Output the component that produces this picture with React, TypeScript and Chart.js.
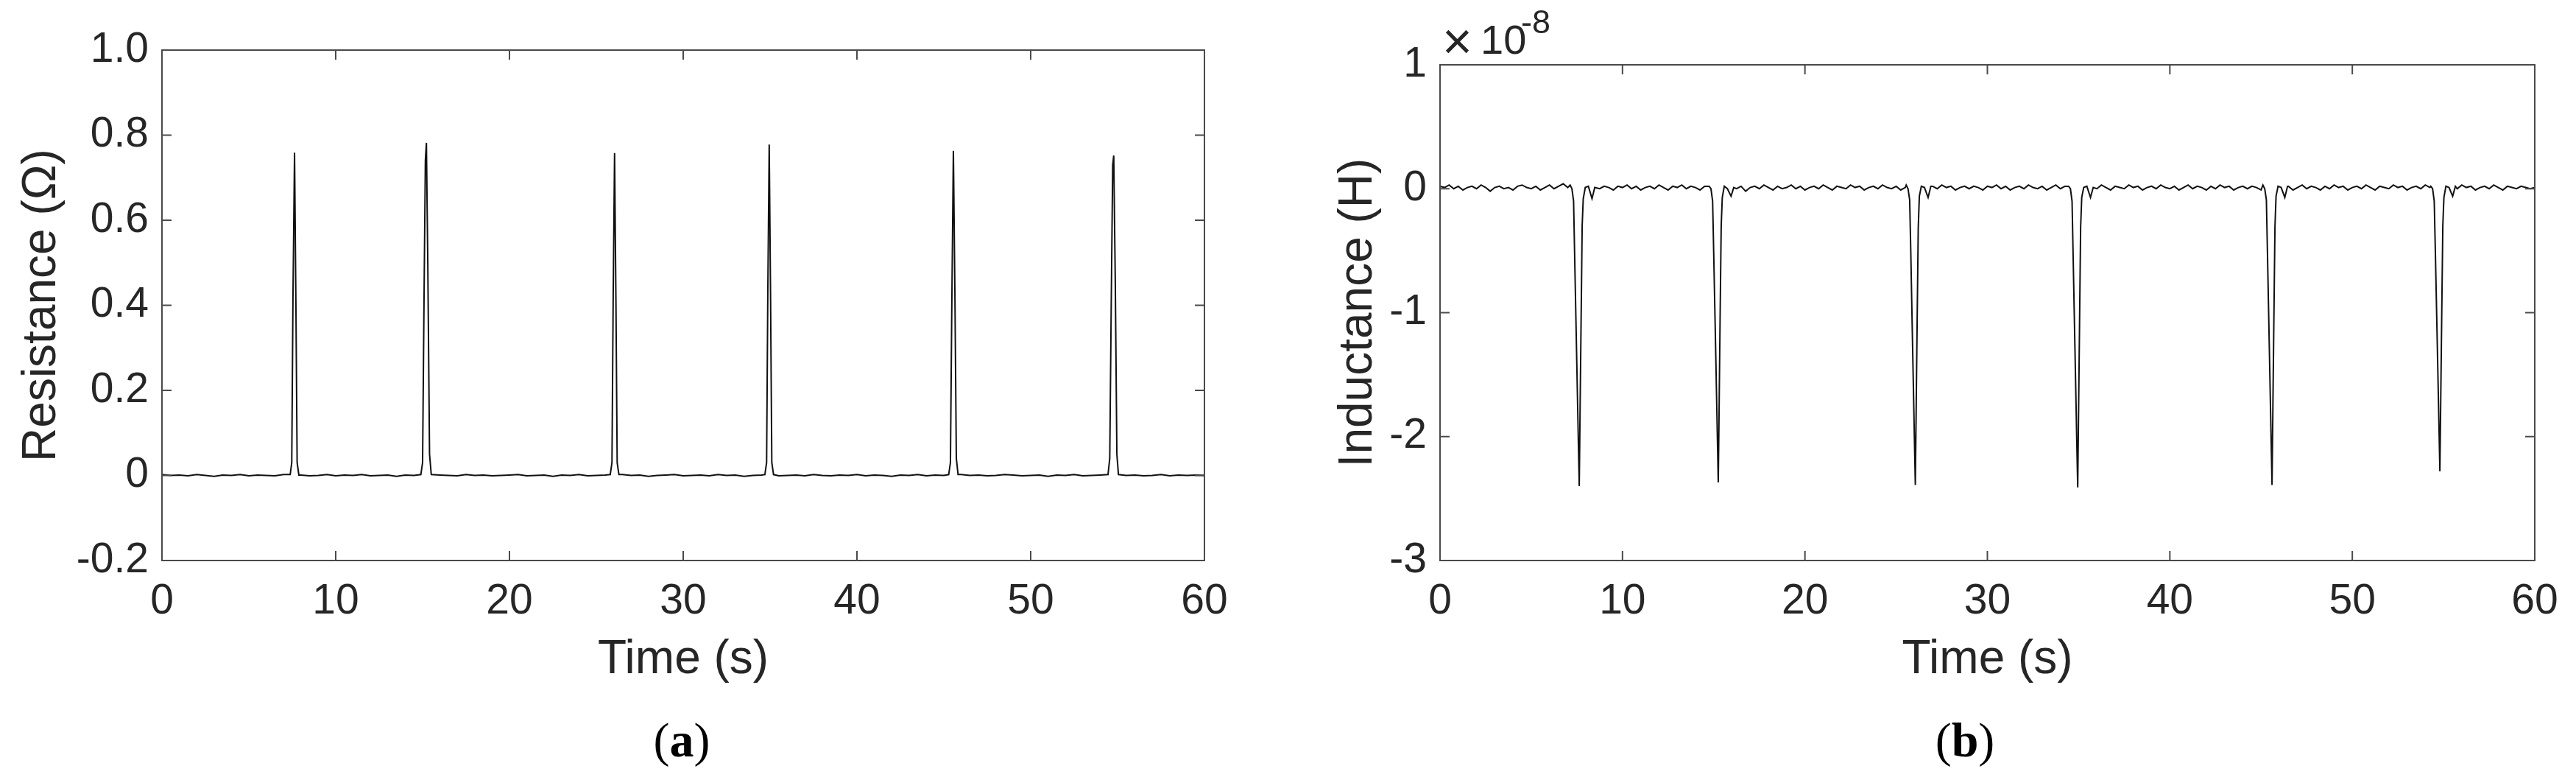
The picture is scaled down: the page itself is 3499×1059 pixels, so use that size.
import React, { useEffect, useRef } from "react";
import { Chart, registerables } from "chart.js";

Chart.register(...registerables);

// ---------------- data ----------------
const timeTicks = [0, 10, 20, 30, 40, 50, 60];
const resistanceTicks = [-0.2, 0, 0.2, 0.4, 0.6, 0.8, 1.0];
const inductanceTicks = [-3, -2, -1, 0, 1]; // ×10^-8 H

// (a) Resistance (Ω): baseline sampled every 0.5 s from 0 s to 60 s
const resistanceSampleStep = 0.5;
const resistanceBaseline = [
  0.002, 0.0, 0.001, -0.001, 0.002, 0.0, -0.002, 0.001, 0.0, 0.002, -0.001, 0.001, 0.0, -0.001, 0.002, 0.0, 0.001, -0.001, 0.0, 0.002,
  -0.001, 0.001, 0.0, 0.002, -0.001, 0.0, 0.001, -0.002, 0.001, 0.0, 0.002, -0.001, 0.001, 0.0, -0.001, 0.002, 0.0, 0.001, -0.001, 0.0,
  0.001, 0.002, -0.001, 0.0, 0.001, -0.002, 0.001, 0.0, 0.002, -0.001, 0.0, 0.001, -0.001, 0.002, 0.0, 0.001, -0.002, 0.0, 0.001, 0.002,
  -0.001, 0.0, 0.001, -0.001, 0.002, 0.0, 0.001, -0.002, 0.0, 0.001, 0.002, -0.001, 0.0, 0.001, -0.001, 0.002, 0.0, -0.001, 0.001, 0.0,
  0.002, -0.001, 0.001, 0.0, -0.002, 0.001, 0.0, 0.002, -0.001, 0.001, 0.0, -0.001, 0.002, 0.0, 0.001, -0.001, 0.0, 0.002, 0.001, -0.001,
  0.0, 0.001, -0.002, 0.001, 0.0, 0.002, -0.001, 0.0, 0.001, -0.001, 0.002, 0.0, 0.001, -0.001, 0.0, 0.002, -0.001, 0.001, 0.0, 0.001,
  0.0,
];
const resistancePeakTimes = [
  [7.38, 7.47, 7.54, 7.63, 7.71, 7.78, 7.88],
  [14.9, 15.0, 15.08, 15.16, 15.22, 15.3, 15.4, 15.5],
  [25.8, 25.9, 25.97, 26.05, 26.13, 26.2, 26.3],
  [34.7, 34.8, 34.87, 34.95, 35.03, 35.1, 35.2],
  [45.28, 45.38, 45.46, 45.55, 45.64, 45.72, 45.82],
  [54.45, 54.55, 54.64, 54.72, 54.78, 54.87, 54.96, 55.05],
];
const resistancePeakValues = [
  [0.002, 0.03, 0.42, 0.759, 0.4, 0.03, 0.001],
  [0.002, 0.03, 0.4, 0.74, 0.782, 0.5, 0.05, 0.002],
  [0.002, 0.03, 0.42, 0.758, 0.4, 0.03, 0.002],
  [0.002, 0.03, 0.43, 0.778, 0.41, 0.03, 0.002],
  [0.002, 0.03, 0.4, 0.763, 0.42, 0.04, 0.002],
  [0.002, 0.04, 0.42, 0.73, 0.752, 0.45, 0.05, 0.002],
];

// (b) Inductance (×10^-8 H): baseline sampled every 0.25 s from 0 s to 60 s
const inductanceSampleStep = 0.25;
const inductanceBaseline = [
  0.02, 0.01, 0.03, 0.0, 0.02, -0.01, 0.01, 0.02, 0.0, 0.03, 0.01, -0.02, 0.01, 0.02, 0.0, 0.01, -0.01, 0.02, 0.03, 0.01,
  0.0, 0.02, -0.01, 0.01, 0.03, 0.0, 0.02, 0.04, 0.01, 0.03, 0.0, 0.02, -0.01, 0.03, 0.01, 0.0, 0.02, 0.01, -0.01, 0.02,
  0.01, 0.03, 0.0, 0.02, -0.01, 0.01, 0.02, 0.0, 0.03, 0.01, -0.01, 0.02, 0.01, 0.03, 0.0, 0.02, 0.01, -0.01, 0.02, 0.01,
  0.0, 0.02, -0.01, 0.01, 0.03, 0.0, 0.02, -0.02, 0.01, 0.02, 0.0, 0.03, 0.01, -0.01, 0.02, 0.0, 0.01, 0.03, 0.0, 0.02,
  -0.01, 0.01, 0.02, 0.0, 0.03, 0.01, -0.01, 0.02, 0.01, 0.0, 0.03, 0.01, 0.02, -0.01, 0.01, 0.02, 0.0, 0.03, 0.01, 0.0,
  0.02, -0.01, 0.01, 0.03, 0.0, 0.02, 0.01, -0.01, 0.02, 0.0, 0.03, 0.01, 0.02, -0.01, 0.01, 0.02, 0.0, 0.02, 0.01, -0.01,
  0.02, 0.01, 0.03, 0.0, 0.02, -0.01, 0.01, 0.02, 0.0, 0.03, 0.01, 0.0, 0.02, -0.01, 0.01, 0.03, 0.0, 0.02, 0.01, 0.0,
  0.02, 0.01, -0.01, 0.02, 0.0, 0.03, 0.01, -0.01, 0.02, 0.01, 0.0, 0.03, 0.01, 0.02, -0.01, 0.01, 0.02, 0.0, 0.03, 0.01,
  0.0, 0.02, -0.01, 0.01, 0.03, 0.0, 0.02, 0.01, -0.01, 0.02, 0.0, 0.03, 0.01, 0.02, -0.01, 0.01, 0.02, 0.0, 0.02, 0.01,
  -0.01, 0.02, 0.0, 0.03, 0.01, 0.0, 0.02, -0.01, 0.01, 0.03, 0.0, 0.02, 0.01, -0.01, 0.02, 0.0, 0.03, 0.01, 0.02, -0.01,
  0.01, 0.02, 0.0, 0.03, 0.01, -0.01, 0.02, 0.01, 0.0, 0.03, 0.01, 0.02, -0.01, 0.01, 0.02, 0.0, 0.03, 0.01, 0.0, 0.02,
  0.01, -0.01, 0.02, 0.0, 0.03, 0.01, 0.02, -0.01, 0.01, 0.02, 0.0, 0.03, 0.01, -0.01, 0.02, 0.01, 0.0, 0.02, 0.01, 0.0,
  0.01,
];
const inductanceDipTimes = [
  [7.13, 7.23, 7.32, 7.38, 7.48, 7.58, 7.63, 7.68, 7.73, 7.79, 7.85, 7.96, 8.13, 8.33, 8.48],
  [14.75, 14.85, 14.94, 15.0, 15.1, 15.2, 15.25, 15.3, 15.35, 15.41, 15.47, 15.58, 15.75, 15.95, 16.1],
  [25.55, 25.65, 25.74, 25.8, 25.9, 26.0, 26.05, 26.1, 26.15, 26.21, 26.27, 26.38, 26.55, 26.75, 26.9],
  [34.45, 34.55, 34.64, 34.7, 34.8, 34.9, 34.95, 35.0, 35.05, 35.11, 35.17, 35.28, 35.45, 35.65, 35.8],
  [45.1, 45.2, 45.29, 45.35, 45.45, 45.55, 45.6, 45.65, 45.7, 45.76, 45.82, 45.93, 46.1, 46.3, 46.45],
  [54.3, 54.4, 54.49, 54.55, 54.65, 54.75, 54.8, 54.85, 54.9, 54.96, 55.02, 55.13, 55.3, 55.5, 55.65],
];
const inductanceDipValues = [
  [0.03, 0.0, -0.1, -0.55, -1.29, -2.03, -2.4, -1.74, -1.09, -0.3, -0.08, 0.01, 0.02, -0.08, 0.01],
  [0.02, 0.0, -0.1, -0.52, -1.25, -2.0, -2.37, -1.72, -1.05, -0.3, -0.07, 0.02, 0.0, -0.06, 0.01],
  [0.03, 0.0, -0.09, -0.5, -1.27, -2.02, -2.39, -1.73, -1.07, -0.32, -0.06, 0.02, 0.01, -0.07, 0.02],
  [0.02, 0.0, -0.1, -0.55, -1.3, -2.05, -2.41, -1.76, -1.1, -0.31, -0.07, 0.01, 0.02, -0.07, 0.01],
  [0.03, 0.0, -0.09, -0.52, -1.27, -2.02, -2.39, -1.73, -1.07, -0.31, -0.06, 0.02, 0.01, -0.07, 0.02],
  [0.02, 0.0, -0.1, -0.5, -1.2, -1.92, -2.28, -1.66, -1.03, -0.3, -0.07, 0.02, 0.01, -0.06, 0.02],
];

// ---------------- styling ----------------
const SANS = '"Liberation Sans", Arial, Helvetica, sans-serif';
const SERIF = '"Liberation Serif", "Times New Roman", serif';
const TEXT_COLOR = "#262626";
const AXIS_COLOR = "#4a4a4a";
const LINE_COLOR = "#111111";
const TICK_FONT = 57;
const TITLE_FONT = 64;
const TICK_LEN = 13;

type Pt = { x: number; y: number };

function buildSeries(step: number, base: number[], eventTimes: number[][], eventValues: number[][]): Pt[] {
  const pts: Pt[] = [];
  base.forEach((v, i) => {
    const t = i * step;
    const inside = eventTimes.some((ts) => t >= ts[0] - 1e-6 && t <= ts[ts.length - 1] + 1e-6);
    if (!inside) pts.push({ x: t, y: v });
  });
  eventTimes.forEach((ts, k) => ts.forEach((t, j) => pts.push({ x: t, y: eventValues[k][j] })));
  pts.sort((a, b) => a.x - b.x);
  return pts;
}

const framePlugin = {
  id: "matlabFrame",
  afterDatasetsDraw(chart: any) {
    const { ctx, chartArea: a, scales } = chart;
    const xs = scales.x;
    const ys = scales.y;
    ctx.save();
    ctx.strokeStyle = AXIS_COLOR;
    ctx.lineWidth = 2;
    ctx.beginPath();
    ctx.rect(a.left, a.top, a.right - a.left, a.bottom - a.top);
    xs.ticks.forEach((t: any) => {
      const px = xs.getPixelForValue(t.value);
      ctx.moveTo(px, a.bottom);
      ctx.lineTo(px, a.bottom - TICK_LEN);
      ctx.moveTo(px, a.top);
      ctx.lineTo(px, a.top + TICK_LEN);
    });
    ys.ticks.forEach((t: any) => {
      const py = ys.getPixelForValue(t.value);
      ctx.moveTo(a.left, py);
      ctx.lineTo(a.left + TICK_LEN, py);
      ctx.moveTo(a.right, py);
      ctx.lineTo(a.right - TICK_LEN, py);
    });
    ctx.stroke();
    ctx.restore();
  },
};

type PanelProps = {
  left: number;
  width: number;
  height: number;
  data: Pt[];
  yMin: number;
  yMax: number;
  yTicks: number[];
  yFormat: (v: number) => string;
  yTitle: string;
  yAxisWidth: number;
  yTitlePad: number;
  padTop: number;
  padRight: number;
  xAxisHeight: number;
};

function Panel(p: PanelProps) {
  const ref = useRef<HTMLCanvasElement | null>(null);
  useEffect(() => {
    if (!ref.current) return;
    const chart = new Chart(ref.current, {
      type: "line",
      data: {
        datasets: [
          {
            data: p.data,
            borderColor: LINE_COLOR,
            borderWidth: 2,
            pointRadius: 0,
            fill: false,
            tension: 0,
          },
        ],
      },
      options: {
        responsive: false,
        animation: false,
        events: [],
        layout: { padding: { top: p.padTop, right: p.padRight, left: 0, bottom: 0 } },
        plugins: { legend: { display: false }, tooltip: { enabled: false }, title: { display: false } },
        scales: {
          x: {
            type: "linear",
            min: timeTicks[0],
            max: timeTicks[timeTicks.length - 1],
            afterBuildTicks: (s: any) => {
              s.ticks = timeTicks.map((v) => ({ value: v }));
            },
            afterFit: (s: any) => {
              s.height = p.xAxisHeight;
            },
            grid: { display: false, drawTicks: false, tickLength: 0 },
            border: { display: false },
            ticks: {
              autoSkip: false,
              maxRotation: 0,
              padding: 22,
              color: TEXT_COLOR,
              font: { family: SANS, size: TICK_FONT },
              callback: (v: any) => String(v),
            },
            title: {
              display: true,
              text: "Time (s)",
              color: TEXT_COLOR,
              font: { family: SANS, size: TITLE_FONT },
              padding: { top: 0, bottom: 124 },
            },
          },
          y: {
            type: "linear",
            min: p.yMin,
            max: p.yMax,
            afterBuildTicks: (s: any) => {
              s.ticks = p.yTicks.map((v) => ({ value: v }));
            },
            afterFit: (s: any) => {
              s.width = p.yAxisWidth;
            },
            grid: { display: false, drawTicks: false, tickLength: 0 },
            border: { display: false },
            ticks: {
              autoSkip: false,
              padding: 18,
              color: TEXT_COLOR,
              font: { family: SANS, size: TICK_FONT },
              callback: (v: any) => p.yFormat(Number(v)),
            },
            title: {
              display: true,
              text: p.yTitle,
              color: TEXT_COLOR,
              font: { family: SANS, size: TITLE_FONT },
              padding: { top: p.yTitlePad, bottom: 0 },
            },
          },
        },
      },
      plugins: [framePlugin],
    } as any);
    return () => chart.destroy();
  }, []);
  return (
    <canvas
      ref={ref}
      width={p.width}
      height={p.height}
      style={{ position: "absolute", left: p.left, top: 0, width: p.width, height: p.height }}
    />
  );
}

const resistanceData = buildSeries(resistanceSampleStep, resistanceBaseline, resistancePeakTimes, resistancePeakValues);
const inductanceData = buildSeries(inductanceSampleStep, inductanceBaseline, inductanceDipTimes, inductanceDipValues);

const abs = (o: any): any => ({ position: "absolute", whiteSpace: "nowrap", lineHeight: 1, margin: 0, ...o });

export default function App() {
  return (
    <div style={{ position: "absolute", left: 0, top: 0, width: 3499, height: 1059, background: "#ffffff", overflow: "hidden" }}>
      <Panel
        left={0}
        width={1749}
        height={1059}
        data={resistanceData}
        yMin={resistanceTicks[0]}
        yMax={resistanceTicks[resistanceTicks.length - 1]}
        yTicks={resistanceTicks}
        yFormat={(v) => (Math.abs(v) < 1e-9 ? "0" : v.toFixed(1))}
        yTitle="Resistance (Ω)"
        yAxisWidth={220}
        yTitlePad={19}
        padTop={68}
        padRight={113}
        xAxisHeight={298}
      />
      <Panel
        left={1749}
        width={1750}
        height={1059}
        data={inductanceData}
        yMin={inductanceTicks[0]}
        yMax={inductanceTicks[inductanceTicks.length - 1]}
        yTicks={inductanceTicks}
        yFormat={(v) => String(Math.round(v))}
        yTitle="Inductance (H)"
        yAxisWidth={207}
        yTitlePad={58}
        padTop={88}
        padRight={56}
        xAxisHeight={298}
      />
      {/* exponent label of panel (b) */}
      <div style={abs({ left: 1959, top: 21, fontFamily: SANS, fontSize: 70, fontWeight: 300, color: TEXT_COLOR })}>×</div>
      <div style={abs({ left: 2011, top: 26, fontFamily: SANS, fontSize: 56, color: TEXT_COLOR })}>10</div>
      <div style={abs({ left: 2066, top: 7, fontFamily: SANS, fontSize: 45, color: TEXT_COLOR })}>-8</div>
      {/* panel captions */}
      <div style={abs({ left: 826, width: 200, top: 972, textAlign: "center", fontFamily: SERIF, fontSize: 66, color: "#000" })}>
        (<b>a</b>)
      </div>
      <div style={abs({ left: 2569, width: 200, top: 972, textAlign: "center", fontFamily: SERIF, fontSize: 66, color: "#000" })}>
        (<b>b</b>)
      </div>
    </div>
  );
}
